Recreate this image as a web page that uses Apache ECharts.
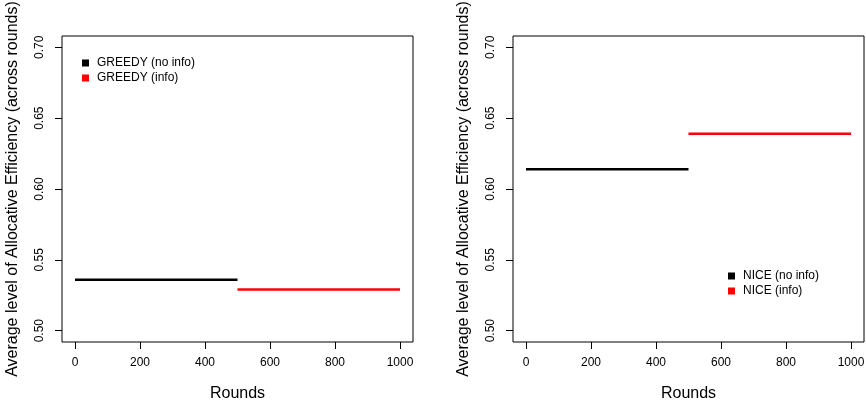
<!DOCTYPE html>
<html>
<head>
<meta charset="utf-8">
<script src="https://cdn.jsdelivr.net/npm/echarts@6/dist/echarts.min.js"></script>
<style>
  html, body { margin: 0; padding: 0; background: #fff; }
  #chart { width: 866px; height: 403px; }
</style>
</head>
<body>
<div id="chart"></div>
<script>
// rounds where each condition runs
var roundsNoInfo = [0, 500];
var roundsInfo = [500, 1000];

// average allocative efficiency per condition (flat over its rounds)
var greedyNoInfo = [0.536, 0.536];
var greedyInfo = [0.529, 0.529];
var niceNoInfo = [0.614, 0.614];
var niceInfo = [0.639, 0.639];

var xTicks = [0, 200, 400, 600, 800, 1000];
var yTicks = [0.50, 0.55, 0.60, 0.65, 0.70];

var font = 'Liberation Sans, Arial, sans-serif';
var yTitle = 'Average level of Allocative Efficiency (across rounds)';

function pairs(xs, ys) {
  var out = [];
  for (var i = 0; i < xs.length; i++) {
    out.push([xs[i], ys[i]]);
  }
  return out;
}

function xAxisFor(idx) {
  return {
    type: 'value', gridIndex: idx, min: -40, max: 1040,
    name: 'Rounds', nameLocation: 'middle', nameGap: 44,
    nameTextStyle: { fontFamily: font, fontSize: 16, color: '#000' },
    axisLine: { show: false, onZero: false },
    axisTick: { show: true, length: 7, customValues: xTicks, lineStyle: { color: '#000' } },
    axisLabel: {
      customValues: xTicks, margin: 15, fontFamily: font, fontSize: 12, color: '#000',
      formatter: function (v) { return String(v); }
    },
    splitLine: { show: false }
  };
}

function yAxisFor(idx) {
  return {
    type: 'value', gridIndex: idx, min: 0.492, max: 0.708,
    name: yTitle, nameLocation: 'middle', nameGap: 41,
    nameTextStyle: { fontFamily: font, fontSize: 16, color: '#000' },
    axisLine: { show: false, onZero: false },
    axisTick: { show: true, length: 7, customValues: yTicks, lineStyle: { color: '#000' } },
    axisLabel: {
      customValues: yTicks, rotate: 90, margin: 16,
      fontFamily: font, fontSize: 12, color: '#000',
      formatter: function (v) { return v.toFixed(2); }
    },
    splitLine: { show: false }
  };
}

function seg(name, idx, xs, ys, color) {
  return {
    name: name, type: 'line', xAxisIndex: idx, yAxisIndex: idx,
    data: pairs(xs, ys), showSymbol: false, symbol: 'none',
    lineStyle: { color: color, width: 2.5 }, itemStyle: { color: color },
    animation: false
  };
}

function legendFor(names, left, top) {
  return {
    data: names, orient: 'vertical', left: left, top: top, padding: 0,
    icon: 'rect', itemWidth: 7, itemHeight: 7, itemGap: 3,
    selectedMode: false,
    textStyle: { fontFamily: font, fontSize: 12, color: '#000', padding: [0, 0, 0, 3] }
  };
}

var myChart = echarts.init(document.getElementById('chart'));

var gridBase = {
  top: 36, width: 351, height: 306, show: true,
  borderColor: '#000', borderWidth: 1, backgroundColor: 'transparent',
  containLabel: false, outerBoundsMode: 'none'
};

var option = {
  backgroundColor: '#fff',
  animation: false,
  grid: [
    Object.assign({ left: 62 }, gridBase),
    Object.assign({ left: 513 }, gridBase)
  ],
  xAxis: [xAxisFor(0), xAxisFor(1)],
  yAxis: [yAxisFor(0), yAxisFor(1)],
  legend: [
    legendFor(['GREEDY (no info)', 'GREEDY (info)'], 82, 57),
    legendFor(['NICE (no info)', 'NICE (info)'], 728, 270)
  ],
  series: [
    seg('GREEDY (no info)', 0, roundsNoInfo, greedyNoInfo, '#000000'),
    seg('GREEDY (info)', 0, roundsInfo, greedyInfo, '#ff0000'),
    seg('NICE (no info)', 1, roundsNoInfo, niceNoInfo, '#000000'),
    seg('NICE (info)', 1, roundsInfo, niceInfo, '#ff0000')
  ]
};
myChart.setOption(option);
</script>
</body>
</html>
